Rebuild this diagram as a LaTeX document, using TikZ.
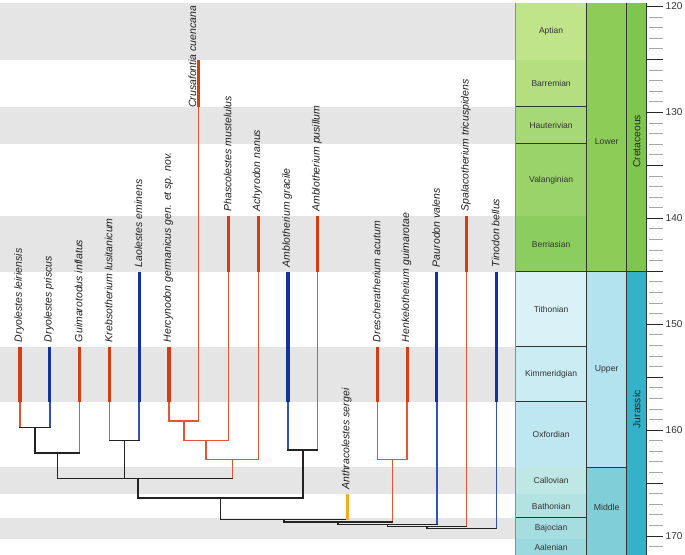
\documentclass[tikz,border=0pt]{standalone}
\usepackage{fontspec}
\setmainfont{Liberation Sans}
\usepackage{xcolor}
\usetikzlibrary{calc}
\definecolor{rngred}{RGB}{213,62,20}
\definecolor{thinred}{RGB}{230,85,50}
\definecolor{rngblue}{RGB}{18,50,160}
\definecolor{thinblue}{RGB}{50,82,180}
\definecolor{rngorange}{RGB}{247,172,30}
\definecolor{dark}{RGB}{35,35,35}
\definecolor{band}{RGB}{229,229,229}
\definecolor{aptian}{RGB}{191,228,138}
\definecolor{barremian}{RGB}{179,223,127}
\definecolor{hauterivian}{RGB}{166,217,117}
\definecolor{valanginian}{RGB}{153,211,106}
\definecolor{berriasian}{RGB}{140,205,96}
\definecolor{lowercret}{RGB}{140,205,87}
\definecolor{cretaceous}{RGB}{127,198,78}
\definecolor{tithonian}{RGB}{217,241,247}
\definecolor{kimmeridgian}{RGB}{204,236,244}
\definecolor{oxfordian}{RGB}{191,231,241}
\definecolor{upperjur}{RGB}{179,227,238}
\definecolor{callovian}{RGB}{191,231,229}
\definecolor{bathonian}{RGB}{179,226,227}
\definecolor{bajocian}{RGB}{166,221,224}
\definecolor{aalenian}{RGB}{154,217,221}
\definecolor{middlejur}{RGB}{128,207,216}
\definecolor{jurassic}{RGB}{52,178,201}
\tikzset{strat range/.style={line width=3.2pt},branch/.style={line width=1.4pt,line cap=rect},
  taxon/.style={font=\fontsize{10.5}{12}\selectfont\itshape,text=black!88,rotate=90,anchor=west,inner sep=0pt},
  stage label/.style={font=\fontsize{8.5}{10}\selectfont,text=black!80,inner sep=0pt},
  series label/.style={font=\fontsize{8.7}{10}\selectfont,text=black!80,inner sep=0pt},
  period label/.style={font=\fontsize{10.3}{12}\selectfont,text=black!85,rotate=90,inner sep=0pt},
  age label/.style={font=\fontsize{10}{12}\selectfont,text=black!80,anchor=west,inner sep=0pt},
  bound/.style={draw=black!80,line width=0.7pt}}

\begin{document}
\begin{tikzpicture}[x=1pt,y=-1pt]
	\useasboundingbox (0,0) rectangle (685,554);
	\clip (0,0) rectangle (685,554);
	\foreach \ya/\yb in {2.7/60.3,106.7/143.7,216.3/271.7,346.7/401.7,467.3/494.3,517.7/539}
		\fill[band] (0,\ya) rectangle (515.5,\yb);
	% time scale
	\foreach \ya/\yb/\col/\nm in {2.7/60.3/aptian/Aptian,60.3/106.7/barremian/Barremian,106.7/143.7/hauterivian/Hauterivian,143.7/216.3/valanginian/Valanginian,216.3/271.7/berriasian/Berriasian,271.7/346.7/tithonian/Tithonian,346.7/401.7/kimmeridgian/Kimmeridgian,401.7/467.3/oxfordian/Oxfordian,467.3/494.3/callovian/Callovian,494.3/517.7/bathonian/Bathonian,517.7/539/bajocian/Bajocian,539/555/aalenian/Aalenian}{
		\fill[\col] (515.5,\ya) rectangle (586.7,\yb);
		\draw[bound] (515.5,\yb) -- (586.7,\yb);
		\node[stage label] (\nm) at (551.1,{(\ya+\yb)/2}) {\nm};
	}
	\fill[lowercret] (586.7,2.7) rectangle (626.7,271.7);
	\fill[upperjur] (586.7,271.7) rectangle (626.7,467.3);
	\fill[middlejur] (586.7,467.3) rectangle (626.7,556);
	\fill[cretaceous] (626.7,2.7) rectangle (646.7,271.7);
	\fill[jurassic] (626.7,271.7) rectangle (646.7,556);
	\draw[black!45,line width=0.5pt] (515.5,2.7) -- (515.5,556);
	\draw[bound] (586.7,2.7) -- (586.7,556) (626.7,2.7) -- (626.7,556) (646.7,2.7) -- (646.7,556);
	\draw[bound] (586.7,271.7) -- (646.7,271.7) (586.7,467.3) -- (626.7,467.3);
	\node[series label] (lower) at (606.7,141.7) {Lower};
	\node[series label] (upper) at (606.7,369) {Upper};
	\node[series label] (middle) at (606.7,507.7) {Middle};
	\node[period label] (cret) at (636.7,141.3) {Cretaceous};
	\node[period label] (jur) at (636.7,409.3) {Jurassic};
	\foreach \a in {120,...,171}
		\draw[black!35,line width=0.6pt] (649.3,{112.3+(\a-130)*10.59}) -- (663.3,{112.3+(\a-130)*10.59});
	\foreach \a in {120,125,...,170}
		\draw[black!85,line width=0.8pt] (646.7,{112.3+(\a-130)*10.59}) -- (663.3,{112.3+(\a-130)*10.59});
	\foreach \a in {120,130,...,170}
		\node[age label] (age\a) at (665.5,{112.3+(\a-130)*10.59}) {\a};
	% taxa
	\coordinate (lei-top) at (20,346.7);    \coordinate (lei-base) at (20,401.7);
	\coordinate (pri-top) at (49.8,346.7);  \coordinate (pri-base) at (49.8,401.7);
	\coordinate (gui-top) at (79.5,346.7);  \coordinate (gui-base) at (79.5,401.7);
	\coordinate (kre-top) at (109.3,346.7); \coordinate (kre-base) at (109.3,401.7);
	\coordinate (lao-top) at (139.1,271.7); \coordinate (lao-base) at (139.1,401.7);
	\coordinate (her-top) at (168.9,346.7); \coordinate (her-base) at (168.9,401.7);
	\coordinate (cru-top) at (198.6,60.3);  \coordinate (cru-base) at (198.6,106.7);
	\coordinate (pha-top) at (228.4,216.3); \coordinate (pha-base) at (228.4,271.7);
	\coordinate (ach-top) at (258.2,216.3); \coordinate (ach-base) at (258.2,271.7);
	\coordinate (agr-top) at (288,271.7);   \coordinate (agr-base) at (288,401.7);
	\coordinate (apu-top) at (317.7,216.3); \coordinate (apu-base) at (317.7,271.7);
	\coordinate (ant-top) at (347.5,494.3); \coordinate (ant-base) at (347.5,519.5);
	\coordinate (dre-top) at (377.3,346.7); \coordinate (dre-base) at (377.3,401.7);
	\coordinate (hen-top) at (407.1,346.7); \coordinate (hen-base) at (407.1,401.7);
	\coordinate (pau-top) at (436.8,271.7); \coordinate (pau-base) at (436.8,401.7);
	\coordinate (spa-top) at (466.6,216.3); \coordinate (spa-base) at (466.6,271.7);
	\coordinate (tin-top) at (496.4,271.7); \coordinate (tin-base) at (496.4,401.7);
	% nodes
	\coordinate (nA) at (34.9,427.3);
	\coordinate (nB) at (57.2,453);
	\coordinate (nC) at (124.2,440.3);
	\coordinate (nD) at (183.8,421);
	\coordinate (nE) at (206.1,440.3);
	\coordinate (nF) at (232.2,459.7);
	\coordinate (nG) at (137.9,478.7);
	\coordinate (nH) at (302.9,450);
	\coordinate (nI) at (220.4,498);
	\coordinate (nJ) at (283.9,519.5);
	\coordinate (nK) at (392.2,459.7);
	\coordinate (nL) at (338,522);
	\coordinate (nM) at (387.4,524.5);
	\coordinate (nN) at (427,526.5);
	\coordinate (nO) at (461.7,528.5);
	\foreach \c/\p/\col in {lei-base/nA/thinred,pri-base/nA/thinblue,nA/nB/dark,gui-base/nB/thinred,
		kre-base/nC/thinred,lao-base/nC/thinblue,her-base/nD/thinred,cru-base/nD/thinred,nD/nE/thinred,
		pha-base/nE/thinred,nE/nF/thinred,ach-base/nF/thinred,nB/nG/dark,nC/nG/dark,nF/nG/thinred,
		agr-base/nH/thinblue,apu-base/nH/thinred,nG/nI/dark,nH/nI/dark,nI/nJ/dark,dre-base/nK/thinred,
		hen-base/nK/thinred,nJ/nL/dark,nK/nL/thinred,nL/nM/dark,pau-base/nM/thinblue,nM/nN/dark,
		spa-base/nN/thinred,nN/nO/dark,tin-base/nO/thinblue}
		\draw[branch,\col] (\c) -- (\c |- \p);
	\foreach \a/\b/\p/\col in {lei-base/pri-base/nA/dark,nA/gui-base/nB/dark,kre-base/lao-base/nC/dark,
		her-base/cru-base/nD/thinred,nD/pha-base/nE/thinred,nE/ach-base/nF/thinred,nB/nF/nG/dark,
		agr-base/apu-base/nH/dark,nG/nH/nI/dark,nI/ant-base/nJ/dark,dre-base/hen-base/nK/thinred,
		nJ/nK/nL/dark,nL/pau-base/nM/dark,nM/spa-base/nN/dark,nN/tin-base/nO/dark}
		\draw[branch,\col] (\a |- \p) -- (\b |- \p);
	\foreach \t/\col in {lei/rngred,pri/rngblue,gui/rngred,kre/rngred,lao/rngblue,her/rngred,cru/rngred,
		pha/rngred,ach/rngred,agr/rngblue,apu/rngred,ant/rngorange,dre/rngred,hen/rngred,pau/rngblue,
		spa/rngred,tin/rngblue}
		\draw[strat range,\col] (\t-top) -- (\t-base);
	% labels
	\node[taxon] (lei-lab) at ($(lei-top)+(-0.8,-4.5)$) {Dryolestes leiriensis};
	\node[taxon] (pri-lab) at ($(pri-top)+(-0.8,-4.5)$) {Dryolestes priscus};
	\node[taxon] (gui-lab) at ($(gui-top)+(-0.8,-4.5)$) {Guimarotodus inflatus};
	\node[taxon] (kre-lab) at ($(kre-top)+(-0.8,-4.5)$) {Krebsotherium lusitanicum};
	\node[taxon] (lao-lab) at ($(lao-top)+(-0.8,-4.5)$) {Laolestes eminens};
	\node[taxon] (her-lab) at ($(her-top)+(-0.8,-4.5)$) {Hercynodon germanicus gen. et sp. nov.};
	\node[taxon,anchor=south west] (cru-lab) at ($(cru-base)+(-2.2,1.4)$) {Crusafontia cuencana};
	\node[taxon] (pha-lab) at ($(pha-top)+(-0.8,-4.5)$) {Phascolestes mustelulus};
	\node[taxon] (ach-lab) at ($(ach-top)+(-0.8,-4.5)$) {Achyrodon nanus};
	\node[taxon] (agr-lab) at ($(agr-top)+(-0.8,-4.5)$) {Amblotherium gracile};
	\node[taxon] (apu-lab) at ($(apu-top)+(-0.8,-4.5)$) {Amblotherium pusillum};
	\node[taxon] (ant-lab) at ($(ant-top)+(-0.8,-4.5)$) {Anthracolestes sergei};
	\node[taxon] (dre-lab) at ($(dre-top)+(-0.8,-4.5)$) {Drescheratherium acutum};
	\node[taxon] (hen-lab) at ($(hen-top)+(-0.8,-4.5)$) {Henkelotherium guimarotae};
	\node[taxon] (pau-lab) at ($(pau-top)+(-0.8,-4.5)$) {Paurodon valens};
	\node[taxon] (spa-lab) at ($(spa-top)+(-0.8,-4.5)$) {Spalacotherium tricuspidens};
	\node[taxon] (tin-lab) at ($(tin-top)+(-0.8,-4.5)$) {Tinodon bellus};
\end{tikzpicture}
\end{document}
